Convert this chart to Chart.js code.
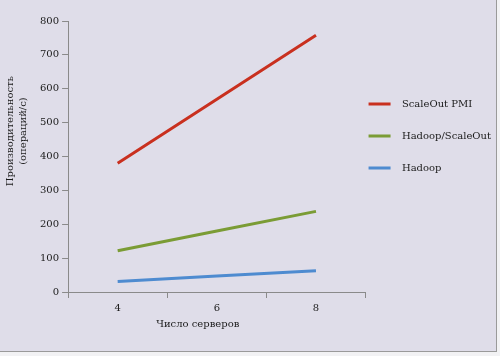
<!DOCTYPE html>
<html><head><meta charset="utf-8">
<script src="https://cdn.jsdelivr.net/npm/chart.js@4"></script>
<style>
html,body{margin:0;padding:0;background:#f2f2f4;}
#wrap{position:absolute;left:0;top:0;width:496px;height:351px;background:#dfdde9;border-right:1px solid #9a9a9a;border-bottom:1px solid #9a9a9a;overflow:hidden;}
canvas{display:block;}
</style></head><body>
<div id="wrap"><canvas id="c" width="506" height="351"></canvas></div>
<script>
const categories = ['4','6','8'];
const scaleOutPMI = [380, 569, 758];
const hadoopScaleOut = [122, 180, 238];
const hadoop = [31, 47, 63];
const seriesNames = ['ScaleOut PMI','Hadoop/ScaleOut','Hadoop'];
const yTicks = [0,100,200,300,400,500,600,700,800];

const FONT = "'DejaVu Serif', serif";
const TXT = '#1a1a1a';
const pad = n => '\u00A0'.repeat(n);

new Chart(document.getElementById('c'), {
  type: 'line',
  data: {
    labels: categories,
    datasets: [
      {label: seriesNames[0], data: scaleOutPMI, borderColor:'#c9301f', backgroundColor:'#c9301f', borderWidth:3, pointRadius:0, tension:0},
      {label: seriesNames[1], data: hadoopScaleOut, borderColor:'#7b9c35', backgroundColor:'#7b9c35', borderWidth:3, pointRadius:0, tension:0},
      {label: seriesNames[2], data: hadoop, borderColor:'#4e8bd0', backgroundColor:'#4e8bd0', borderWidth:3, pointRadius:0, tension:0}
    ]
  },
  options: {
    responsive:false, animation:false,
    layout:{padding:{top:21,left:2,right:5,bottom:21}},
    plugins:{
      tooltip:{enabled:false},
      legend:{
        position:'right', align:'start', maxWidth:220,
        title:{display:true, text:'\u00A0', font:{family:FONT,size:10}, padding:{top:63,bottom:0}},
        labels:{
          font:{family:FONT,size:10,lineHeight:2.9}, color:TXT,
          boxWidth:22, boxHeight:3, padding:3,
          generateLabels(chart){
            return chart.data.datasets.map((d,i)=>({text:[pad(2)+d.label], fillStyle:d.borderColor, strokeStyle:d.borderColor, lineWidth:0, datasetIndex:i, fontColor:TXT}));
          }
        }
      }
    },
    scales:{
      x:{
        type:'category', offset:true,
        grid:{offset:true, drawOnChartArea:false, tickLength:6, color:'#8a8a8a'},
        border:{color:'#8a8a8a'},
        ticks:{font:{family:FONT,size:10}, color:TXT, padding:4},
        title:{display:true, text:'Число серверов'+pad(12), font:{family:FONT,size:10}, color:TXT, padding:{top:0,bottom:0}}
      },
      y:{
        min:0, max:800,
        afterBuildTicks(s){ s.ticks = yTicks.map(v=>({value:v})); },
        grid:{drawOnChartArea:false, tickLength:6, color:'#8a8a8a'},
        border:{color:'#8a8a8a'},
        ticks:{font:{family:FONT,size:10}, color:TXT, padding:3},
        title:{display:true, text:[pad(16)+'Производительность', pad(16)+'(операций/с)'], font:{family:FONT,size:10, lineHeight:1.3}, color:TXT, padding:{top:2,bottom:7}}
      }
    }
  }
});
</script>
</body></html>
